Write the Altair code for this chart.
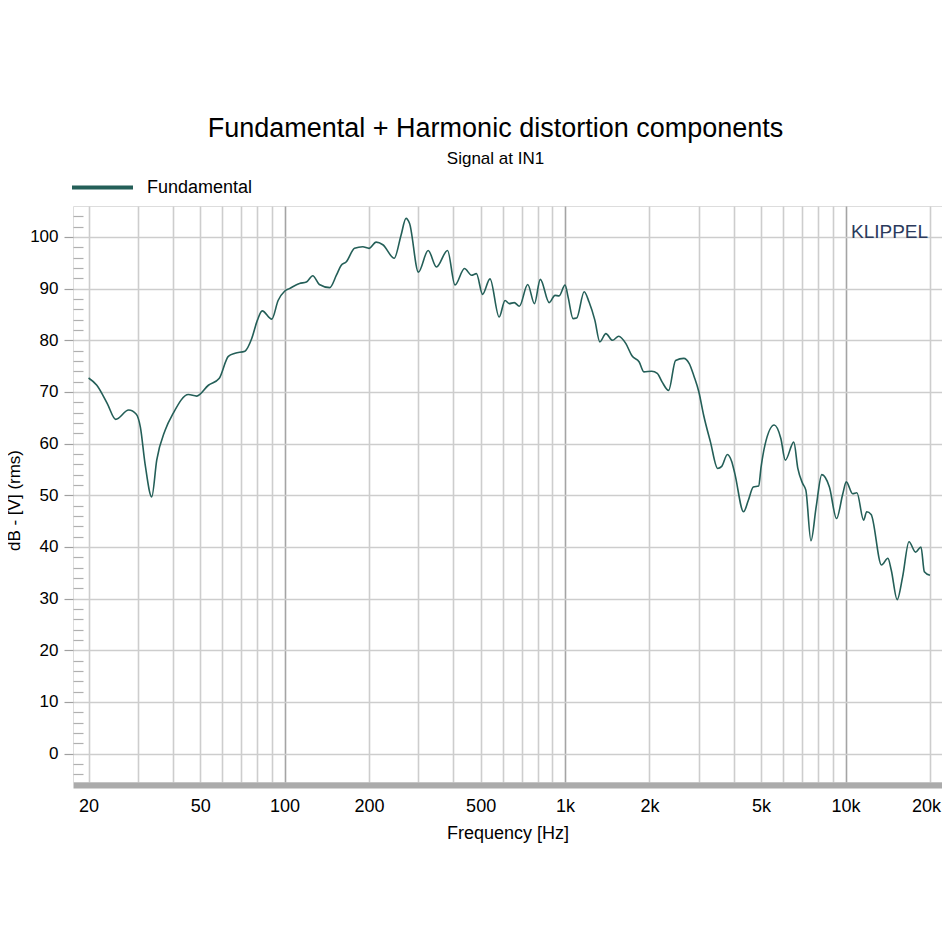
import altair as alt
import pandas as pd

# Fundamental curve (frequency in Hz, level in dB)
freq_hz = [20, 21.4, 23.3, 25.0, 27.8, 29.6, 30.6, 31.8, 33.6, 35.0, 37.5, 40,
           45.4, 48.6, 53.5, 58.4, 63, 66.6, 72.2, 76.3, 80, 83.2, 90, 94.8,
           100, 104, 113, 119.6, 126, 133, 144.8, 153, 159, 166, 177.6, 190,
           200, 212, 224, 246, 260, 271, 279, 300, 325, 348, 381, 405, 438,
           464, 483, 508, 540, 582, 611, 632, 659, 687, 736, 778, 816, 878,
           921, 952, 1000, 1025, 1068, 1100, 1170, 1218, 1277, 1330, 1398,
           1476, 1554, 1646, 1732, 1838, 1910, 2036, 2132, 2220, 2340, 2478,
           2650, 2772, 2888, 3000, 3120, 3300, 3500, 3620, 3790, 3930, 4030,
           4330, 4500, 4690, 4900, 5000, 5160, 5570, 5880, 6100, 6540, 6760,
           7030, 7220, 7530, 7860, 8230, 8760, 9290, 9780, 10060, 10600,
           10980, 11600, 11900, 12340, 13440, 14160, 14560, 15280, 15980,
           16840, 17780, 18580, 19100, 20000]
level_db = [72.7, 71.3, 67.8, 64.7, 66.5, 65.7, 63.2, 56.1, 49.7, 56.8, 62.6, 65.8,
            69.5, 69.2, 71.3, 72.6, 76.9, 77.5, 77.9, 80.3, 83.9, 85.7, 84.1, 87.7,
            89.5, 90.0, 91.0, 91.3, 92.5, 90.8, 90.2, 92.6, 94.5, 95.2, 97.8, 98.1,
            97.8, 99.0, 98.5, 95.9, 100.3, 103.6, 102.6, 93.2, 97.4, 94.2, 97.4, 90.7, 93.9,
            92.6, 92.9, 88.9, 91.9, 84.5, 87.7, 87.1, 87.3, 86.6, 90.8, 87.1, 91.8, 87.3,
            88.7, 88.6, 90.7, 88.4, 84.2, 84.3, 89.4, 87.4, 83.9, 79.7, 81.3,
            80.0, 80.8, 79.4, 77.0, 75.8, 73.9, 74.0, 73.6, 71.9, 70.3, 76.1,
            76.5, 75.5, 72.9, 70.0, 65.5, 60.3, 55.2, 55.6, 57.9, 56.5, 54.2,
            46.8, 49.0, 51.6, 51.8, 55.5, 59.7, 63.6, 61.0, 56.8, 60.3, 55.2,
            52.3, 51.0, 41.2, 47.8, 54.0, 51.6, 45.5, 50.3, 52.6, 50.3,
            50.5, 45.2, 46.8, 46.3, 36.5, 37.8, 35.5, 29.8, 34.2,
            41.0, 39.0, 40.0, 35.2, 34.5]
series_name = "Fundamental"

# Axis tick / grid positions and labels
x_grid = [20, 30, 40, 50, 60, 70, 80, 90, 100, 200, 300, 400, 500, 600, 700,
          800, 900, 1000, 2000, 3000, 4000, 5000, 6000, 7000, 8000, 9000,
          10000, 20000]
x_label_values = [20, 50, 100, 200, 500, 1000, 2000, 5000, 10000, 20000]
x_label_texts = ["20", "50", "100", "200", "500", "1k", "2k", "5k", "10k", "20k"]
y_major = [0, 10, 20, 30, 40, 50, 60, 70, 80, 90, 100]
y_minor = [-4, -2, 2, 4, 6, 8, 12, 14, 16, 18, 22, 24, 26, 28, 32, 34, 36, 38,
           42, 44, 46, 48, 52, 54, 56, 58, 62, 64, 66, 68, 72, 74, 76, 78,
           82, 84, 86, 88, 92, 94, 96, 98, 102, 104]

brand_text = ["KLIPPEL"]
brand_freq = [19700]
brand_db = [100.9]

df = pd.DataFrame({"freq": freq_hz, "db": level_db, "series": series_name})
brand_df = pd.DataFrame({"freq": brand_freq, "db": brand_db, "label": brand_text})

label_expr = "''"
for v, t in reversed(list(zip(x_label_values, x_label_texts))):
    label_expr = f"datum.value == {v} ? '{t}' : ({label_expr})"

FONT = "Liberation Sans"
x_scale = alt.Scale(type="log", domain=[17.6, 22080], nice=False)
y_scale = alt.Scale(domain=[-5.5, 106], nice=False, zero=False)

x_axis = alt.Axis(
    values=x_grid, labelExpr=label_expr, title="Frequency [Hz]",
    grid=True,
    gridColor={"condition": {"test": "datum.value == 100 || datum.value == 1000 || datum.value == 10000",
                             "value": "#a4a4a4"}, "value": "#cdcdcd"},
    gridWidth=1.6, ticks=False, domain=True, domainColor="#ababab", domainWidth=6,
    offset=3, labelFont=FONT, labelFontSize=18, labelColor="black", labelPadding=12,
    labelOffset={"condition": {"test": "datum.value == 20000", "value": -4}, "value": 0},
    labelFlush=False, labelOverlap=False,
    titleFont=FONT, titleFontSize=18, titleFontWeight="normal", titleColor="black",
    titlePadding=9,
)
y_axis = alt.Axis(
    values=y_major, title="dB - [V] (rms)", grid=True, gridColor="#cdcdcd", gridWidth=1.6,
    ticks=True, tickSize=9, tickColor="#a0a0a0", tickWidth=1.2, domain=False,
    labelFont=FONT, labelFontSize=17, labelColor="black", labelPadding=6,
    titleFont=FONT, titleFontSize=17, titleFontWeight="normal", titleColor="black",
    titleX=-59, titleY=294, titleAngle=270, titleBaseline="middle", titleAlign="center",
)

line = alt.Chart(df).mark_line(strokeWidth=1.6, interpolate="monotone").encode(
    x=alt.X("freq:Q", scale=x_scale, axis=x_axis),
    y=alt.Y("db:Q", scale=y_scale, axis=y_axis),
    color=alt.Color(
        "series:N", scale=alt.Scale(range=["#245f58"]),
        legend=alt.Legend(
            orient="none", legendX=-3, legendY=-51, title=None, symbolType="stroke",
            symbolSize=3721, symbolStrokeWidth=4, symbolStrokeColor="#1e6a60",
            labelFont=FONT, labelFontSize=18, labelColor="black", labelOffset=12, padding=0,
        ),
    ),
)

brand = alt.Chart(brand_df).mark_text(
    align="right", baseline="middle", font=FONT, fontSize=19, color="#2b3a5c"
).encode(
    x=alt.X("freq:Q", scale=x_scale),
    y=alt.Y("db:Q", scale=y_scale),
    text="label:N",
)

main = alt.layer(line, brand)

minor = alt.Chart(df).mark_point(opacity=0).encode(
    y=alt.Y("db:Q", scale=y_scale,
            axis=alt.Axis(orient="left", values=y_minor, labels=False, grid=False, domain=False,
                          ticks=True, tickSize=10, tickColor="#b0b0b0", tickWidth=1.2,
                          offset=-10, title="")),
)

chart = alt.layer(main, minor).resolve_scale(y="independent").properties(
    width=869, height=576,
    title=alt.TitleParams(
        text="Fundamental + Harmonic distortion components", subtitle="Signal at IN1",
        font=FONT, fontSize=27, fontWeight="normal", color="black",
        subtitleFont=FONT, subtitleFontSize=17, subtitleColor="black", subtitlePadding=8,
        anchor="middle", dx=-12, offset=-13,
    ),
    autosize=alt.AutoSizeParams(type="none"),
    padding={"left": 65, "top": 198, "right": 0, "bottom": 150},
).configure_view(stroke="#c8c8c8", strokeWidth=2).configure(background="white")

chart.save("out.html", embed_options={"renderer": "svg", "actions": False})
